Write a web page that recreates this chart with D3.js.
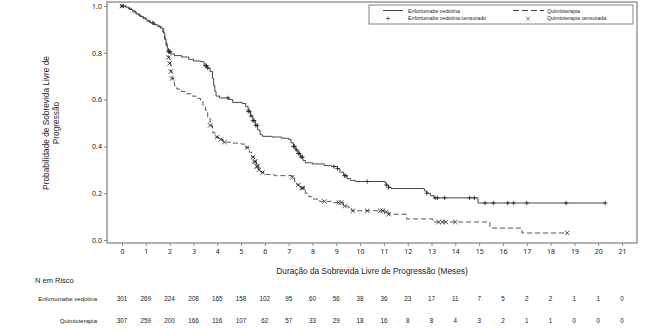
<!DOCTYPE html>
<html>
<head>
<meta charset="utf-8">
<script src="https://cdn.jsdelivr.net/npm/d3@7"></script>
<style>
  body { margin: 0; background: #fff; }
  svg { display: block; font-family: "Liberation Sans", Arial, sans-serif; }
  .tick text { font-family: "Noto Sans", sans-serif; font-size: 7px; fill: #222; }
  .axisGroup path, .axisGroup line { stroke: #888; }
</style>
</head>
<body>
<div id="container"></div>
<script>
// step curves: time of each drop (months) and survival after it
var evTime = [0.15, 0.3, 0.45, 0.6, 0.75, 0.9, 1.05, 1.2, 1.35, 1.5, 1.65, 1.75, 1.8, 1.85, 1.9, 1.95, 2.05, 2.2, 2.5, 2.8, 3.0, 3.3, 3.45, 3.6, 3.7, 3.8, 3.85, 3.9, 3.95, 4.1, 4.5, 4.65, 5.05, 5.2, 5.3, 5.4, 5.5, 5.6, 5.7, 5.8, 5.9, 6.3, 6.7, 7.0, 7.1, 7.2, 7.3, 7.4, 7.5, 7.6, 7.7, 8.0, 8.5, 8.8, 9.05, 9.15, 9.3, 9.45, 9.6, 9.8, 11.05, 11.1, 11.2, 11.3, 12.7, 12.8, 12.95, 13.1, 14.95];
var evSurv = [0.995, 0.985, 0.975, 0.965, 0.955, 0.945, 0.935, 0.928, 0.92, 0.912, 0.905, 0.885, 0.86, 0.84, 0.82, 0.805, 0.795, 0.788, 0.782, 0.772, 0.765, 0.762, 0.745, 0.735, 0.72, 0.69, 0.66, 0.635, 0.615, 0.607, 0.6, 0.588, 0.583, 0.57, 0.55, 0.53, 0.51, 0.49, 0.47, 0.45, 0.443, 0.44, 0.435, 0.43, 0.415, 0.4, 0.385, 0.37, 0.355, 0.34, 0.33, 0.325, 0.318, 0.314, 0.305, 0.29, 0.275, 0.262, 0.255, 0.25, 0.245, 0.235, 0.225, 0.22, 0.21, 0.2, 0.19, 0.18, 0.158];
var evEnd = 20.3;
var evCensor = [0, 1.3, 1.95, 2.0, 2.02, 3.5, 3.55, 3.6, 4.45, 5.3, 5.35, 5.42, 5.5, 5.55, 5.62, 5.68, 7.2, 7.25, 7.32, 7.4, 7.45, 7.52, 7.58, 8.9, 9.05, 9.35, 9.4, 10.3, 11.1, 11.2, 12.8, 13.15, 13.25, 13.55, 14.6, 14.8, 15.25, 15.6, 16.2, 16.45, 17.0, 18.65, 20.3];

var chemoTime = [0.2, 0.4, 0.55, 0.7, 0.85, 1.0, 1.15, 1.3, 1.45, 1.6, 1.7, 1.75, 1.8, 1.85, 1.9, 1.95, 2.0, 2.05, 2.1, 2.2, 2.3, 2.5, 2.7, 2.9, 3.1, 3.3, 3.4, 3.5, 3.6, 3.7, 3.8, 3.9, 4.05, 4.25, 4.6, 5.0, 5.2, 5.35, 5.45, 5.55, 5.65, 5.75, 5.85, 6.0, 6.4, 7.15, 7.25, 7.35, 7.5, 7.7, 7.85, 8.0, 8.3, 8.8, 9.3, 9.5, 9.65, 11.0, 11.2, 11.95, 13.05, 15.45, 16.8];
var chemoSurv = [0.99, 0.98, 0.97, 0.96, 0.95, 0.94, 0.93, 0.922, 0.915, 0.905, 0.89, 0.87, 0.85, 0.83, 0.81, 0.78, 0.755, 0.72, 0.69, 0.66, 0.645, 0.635, 0.625, 0.615, 0.605, 0.595, 0.575, 0.555, 0.525, 0.49, 0.46, 0.44, 0.43, 0.418, 0.414, 0.41, 0.395, 0.375, 0.355, 0.335, 0.315, 0.3, 0.288, 0.28, 0.275, 0.268, 0.25, 0.235, 0.222, 0.2, 0.185, 0.175, 0.165, 0.16, 0.145, 0.14, 0.125, 0.12, 0.11, 0.09, 0.077, 0.051, 0.03];
var chemoEnd = 18.7;
var chemoCensor = [0, 1.95, 2.0, 2.05, 2.1, 3.7, 4.0, 4.15, 4.3, 5.25, 5.5, 5.55, 5.6, 5.65, 5.7, 5.75, 5.9, 7.15, 7.4, 7.55, 7.6, 8.5, 9.1, 9.2, 9.35, 9.7, 10.3, 10.85, 10.95, 11.1, 11.2, 13.3, 13.45, 13.6, 14.0, 18.7];

// number at risk per month
var months = d3.range(0, 22);
var riskEV = [301, 269, 224, 208, 165, 158, 102, 95, 60, 56, 38, 36, 23, 17, 11, 7, 5, 2, 2, 1, 1, 0];
var riskChemo = [307, 259, 200, 166, 116, 107, 62, 57, 33, 29, 18, 16, 8, 8, 4, 3, 2, 1, 1, 0, 0, 0];
var yTicks = [0, 0.2, 0.4, 0.6, 0.8, 1.0];

var width = 658, height = 331;
var frame = { left: 107, right: 637, top: 2, bottom: 243 };

var x = d3.scaleLinear().domain([0, 21]).range([122, 622]);
var y = d3.scaleLinear().domain([0, 1]).range([240, 6]);

var chart = d3.select("#container")
  .append("svg")
    .attr("width", width)
    .attr("height", height);

function stepPoints(times, surv, end) {
  var pts = [[0, 1]];
  times.forEach(function(t, i) { pts.push([t, surv[i]]); });
  pts.push([end, surv[surv.length - 1]]);
  return pts;
}

function survAt(times, surv, t) {
  var s = 1;
  times.forEach(function(ti, i) { if (ti <= t) s = surv[i]; });
  return s;
}

// frame
chart.append("rect")
  .attr("x", frame.left)
  .attr("y", frame.top)
  .attr("width", frame.right - frame.left)
  .attr("height", frame.bottom - frame.top)
  .attr("fill", "none")
  .attr("stroke", "#888")
  .attr("stroke-width", 1.3);

// axes
var xAxisGroup = chart.append("g")
  .classed("axisGroup", true)
  .attr("transform", "translate(0," + frame.bottom + ")")
  .call(d3.axisBottom(x).tickValues(months).tickFormat(d3.format("d")).tickSize(3).tickPadding(3).tickSizeOuter(0));
xAxisGroup.select(".domain").remove();

var yAxisGroup = chart.append("g")
  .classed("axisGroup", true)
  .attr("transform", "translate(" + frame.left + ",0)")
  .call(d3.axisLeft(y).tickValues(yTicks).tickFormat(d3.format(".1f")).tickSize(3).tickPadding(2).tickSizeOuter(0));
yAxisGroup.select(".domain").remove();

// axis titles
chart.append("text")
  .attr("transform", "translate(51,123) rotate(-90)")
  .attr("text-anchor", "middle")
  .attr("font-size", 8.3)
  .attr("fill", "#222")
  .selectAll("tspan")
  .data(["Probabilidade de Sobrevida Livre de", "Progressão"])
  .enter().append("tspan")
    .attr("x", 0)
    .attr("dy", function(d, i) { return i == 0 ? -2 : 10; })
    .text(function(d) { return d; });

chart.append("text")
  .attr("x", 372)
  .attr("y", 274)
  .attr("text-anchor", "middle")
  .attr("font-size", 8.3)
  .attr("fill", "#222")
  .text("Duração da Sobrevida Livre de Progressão (Meses)");

// curves
var line = d3.line()
  .x(function(d) { return x(d[0]); })
  .y(function(d) { return y(d[1]); })
  .curve(d3.curveStepAfter);

chart.append("path")
  .attr("d", line(stepPoints(chemoTime, chemoSurv, chemoEnd)))
  .attr("fill", "none")
  .attr("stroke", "#444")
  .attr("stroke-width", 0.9)
  .attr("stroke-dasharray", "5,3");

chart.append("path")
  .attr("d", line(stepPoints(evTime, evSurv, evEnd)))
  .attr("fill", "none")
  .attr("stroke", "#333")
  .attr("stroke-width", 0.9);

// censor marks
var m = 2.2;
chart.append("g")
  .selectAll("path")
  .data(evCensor)
  .enter().append("path")
    .attr("d", function(t) {
      var cx = x(t), cy = y(survAt(evTime, evSurv, t));
      return "M" + (cx - m) + "," + cy + "H" + (cx + m) + "M" + cx + "," + (cy - m) + "V" + (cy + m);
    })
    .attr("stroke", "#222")
    .attr("stroke-width", 0.8);

chart.append("g")
  .selectAll("path")
  .data(chemoCensor)
  .enter().append("path")
    .attr("d", function(t) {
      var cx = x(t), cy = y(survAt(chemoTime, chemoSurv, t));
      return "M" + (cx - m) + "," + (cy - m) + "L" + (cx + m) + "," + (cy + m) +
        "M" + (cx - m) + "," + (cy + m) + "L" + (cx + m) + "," + (cy - m);
    })
    .attr("stroke", "#222")
    .attr("stroke-width", 0.8);

// legend
var legend = chart.append("g").attr("font-size", 5.3).attr("fill", "#222");
legend.append("rect")
  .attr("x", 369).attr("y", 5)
  .attr("width", 264).attr("height", 19)
  .attr("fill", "#fff")
  .attr("stroke", "#666")
  .attr("stroke-width", 0.8);
legend.append("line")
  .attr("x1", 383).attr("x2", 403).attr("y1", 10.5).attr("y2", 10.5)
  .attr("stroke", "#333").attr("stroke-width", 0.9);
legend.append("line")
  .attr("x1", 513).attr("x2", 544).attr("y1", 10.5).attr("y2", 10.5)
  .attr("stroke", "#333").attr("stroke-width", 0.9).attr("stroke-dasharray", "6,3");
legend.append("path")
  .attr("d", "M386,18.5H390M388,16.5V20.5")
  .attr("stroke", "#333").attr("stroke-width", 0.7);
legend.append("path")
  .attr("d", "M526,16.5L530,20.5M526,20.5L530,16.5")
  .attr("stroke", "#333").attr("stroke-width", 0.7);
[["Enfortumabe vedotina", 408, 12.5], ["Quimioterapia", 547, 12.5],
 ["Enfortumabe vedotina censurado", 408, 20.3], ["Quimioterapia censurada", 547, 20.3]]
  .forEach(function(d) {
    legend.append("text").attr("x", d[1]).attr("y", d[2]).text(d[0]);
  });

// number at risk table
chart.append("text")
  .attr("x", 35)
  .attr("y", 283)
  .attr("font-size", 7.5)
  .attr("fill", "#222")
  .text("N em Risco");

var rows = [["Enfortumabe vedotina", riskEV, 300.5], ["Quimioterapia", riskChemo, 322.5]];
rows.forEach(function(r) {
  chart.append("text")
    .attr("x", 97)
    .attr("y", r[2])
    .attr("text-anchor", "end")
    .attr("font-size", 6)
    .attr("fill", "#222")
    .text(r[0]);
  chart.append("g")
    .selectAll("text")
    .data(r[1])
    .enter().append("text")
      .attr("x", function(d, i) { return x(months[i]); })
      .attr("y", r[2])
      .attr("text-anchor", "middle")
      .attr("font-size", 6.3)
      .attr("fill", "#222")
      .text(function(d) { return d; });
});
</script>
</body>
</html>
